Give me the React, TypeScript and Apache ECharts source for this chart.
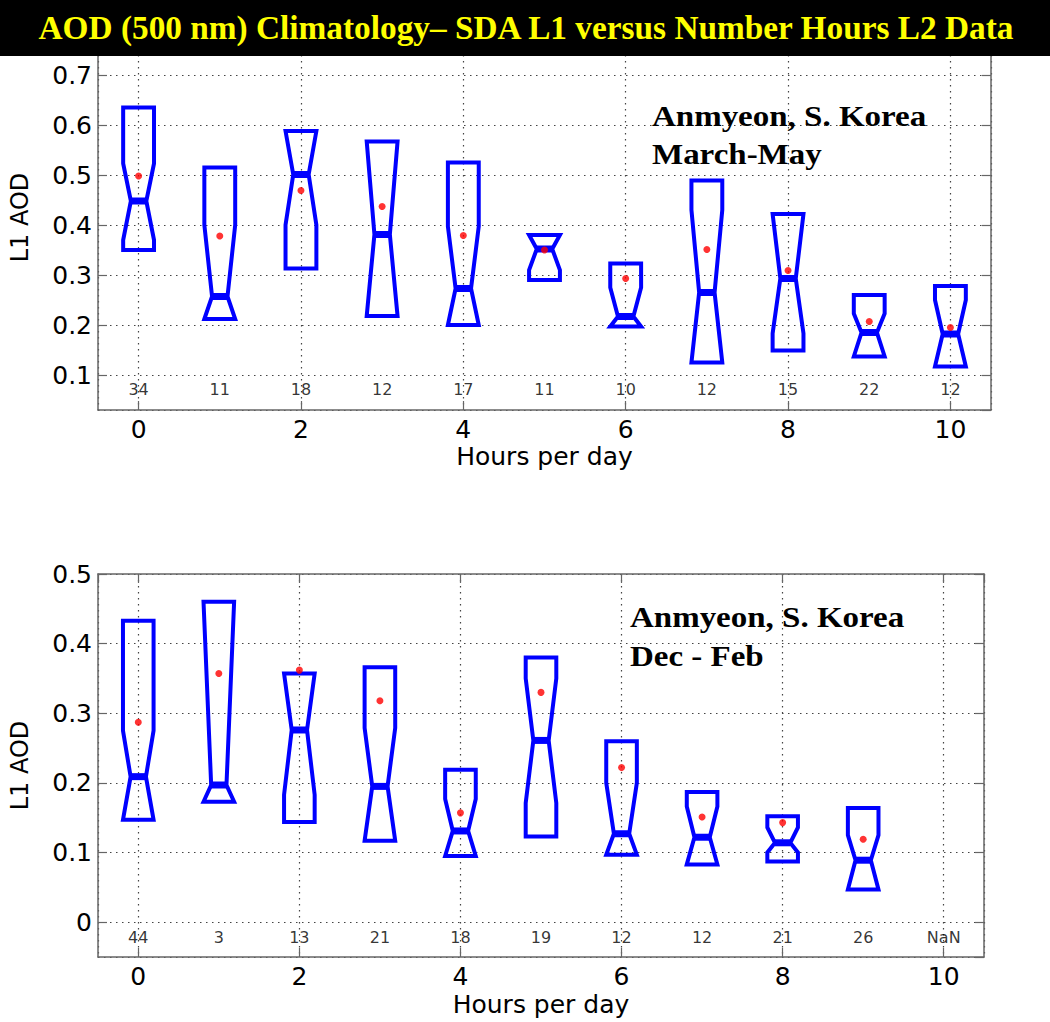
import React, { useEffect, useRef } from "react";
import * as echarts from "echarts";

// ---------- data ----------
const hours = [0, 1, 2, 3, 4, 5, 6, 7, 8, 9, 10];

// Panel A: March-May
const mamQ1 = [0.35, 0.212, 0.313, 0.218, 0.2, 0.29, 0.197, 0.125, 0.149, 0.137, 0.117];
const mamQ3 = [0.635, 0.515, 0.588, 0.567, 0.525, 0.38, 0.323, 0.489, 0.422, 0.26, 0.278];
const mamMedian = [0.448, 0.257, 0.501, 0.381, 0.273, 0.352, 0.217, 0.265, 0.293, 0.185, 0.182];
const mamNotchLo = [0.37, 0.212, 0.4, 0.218, 0.2, 0.31, 0.197, 0.125, 0.183, 0.137, 0.117];
const mamNotchHi = [0.523, 0.4, 0.588, 0.567, 0.397, 0.38, 0.275, 0.43, 0.422, 0.223, 0.25];
const mamMean = [0.498, 0.378, 0.469, 0.437, 0.379, 0.35, 0.293, 0.351, 0.309, 0.207, 0.195];
const mamCounts = ["34", "11", "18", "12", "17", "11", "10", "12", "15", "22", "12"];

// Panel B: Dec - Feb
const djfQ1 = [0.147, 0.173, 0.144, 0.117, 0.095, 0.123, 0.097, 0.083, 0.087, 0.047, null];
const djfQ3 = [0.433, 0.46, 0.357, 0.366, 0.219, 0.38, 0.26, 0.187, 0.152, 0.164, null];
const djfMedian = [0.209, 0.197, 0.276, 0.195, 0.131, 0.261, 0.127, 0.122, 0.114, 0.089, null];
const djfNotchLo = [0.147, 0.173, 0.183, 0.117, 0.095, 0.171, 0.097, 0.083, 0.1, 0.047, null];
const djfNotchHi = [0.275, 0.46, 0.357, 0.279, 0.177, 0.35, 0.2, 0.166, 0.136, 0.125, null];
const djfMean = [0.287, 0.357, 0.362, 0.318, 0.157, 0.33, 0.222, 0.151, 0.143, 0.119, null];
const djfCounts = ["44", "3", "13", "21", "18", "19", "12", "12", "21", "26", "NaN"];

const titleText = "AOD (500 nm) Climatology\u2013 SDA L1 versus Number Hours L2 Data";
const siteText = "Anmyeon, S. Korea";
const seasonA = "March-May";
const seasonB = "Dec - Feb";
const xName = "Hours per day";
const yName = "L1 AOD";

// ---------- styling ----------
const BLUE = "#0000ff";
const RED = "#ff0000";
const HW = 0.19;
const IW = 0.095;
const FONT = "DejaVu Sans";
const SERIF = "Liberation Serif";

function boxData(q1: any[], q3: any[], md: any[], lo: any[], hi: any[]) {
  const out: number[][] = [];
  hours.forEach((h, i) => {
    if (q1[i] != null) out.push([h, q1[i], q3[i], md[i], lo[i], hi[i]]);
  });
  return out;
}
function pointData(vals: any[]) {
  const out: number[][] = [];
  hours.forEach((h, i) => {
    if (vals[i] != null) out.push([h, vals[i]]);
  });
  return out;
}

const renderBox = (params: any, api: any) => {
  const x = api.value(0);
  const q1 = api.value(1);
  const q3 = api.value(2);
  const md = api.value(3);
  const lo = api.value(4);
  const hi = api.value(5);
  const p = (dx: number, v: number) => api.coord([x + dx, v]);
  const pts = [
    p(-HW, q1), p(-HW, lo), p(-IW, md), p(-HW, hi), p(-HW, q3),
    p(HW, q3), p(HW, hi), p(IW, md), p(HW, lo), p(HW, q1),
  ];
  const a = p(-IW, md);
  const b = p(IW, md);
  return {
    type: "group",
    children: [
      { type: "polygon", shape: { points: pts }, style: { fill: "none", stroke: BLUE, lineWidth: 4, lineJoin: "miter" } },
      { type: "line", shape: { x1: a[0], y1: a[1], x2: b[0], y2: b[1] }, style: { stroke: BLUE, lineWidth: 7 } },
    ],
  };
};

const axisLine = { show: true, onZero: false, lineStyle: { color: "#666", width: 1.5 } };
const axisTick = { show: true, inside: true, length: 9, lineStyle: { color: "#666", width: 1.2 } };
const gridLine = { show: true, lineStyle: { color: "#444", type: [1.5, 4.5], width: 1.2 } };

function xAxes(gi: number, nameGap: number) {
  return [
    {
      gridIndex: gi, type: "value", position: "bottom", min: -0.5, max: 10.5, minInterval: 2, maxInterval: 2,
      axisLine, axisTick, splitLine: gridLine,
      axisLabel: { show: true, fontFamily: FONT, fontSize: 25, color: "#000", margin: 7, showMinLabel: false, showMaxLabel: false },
      name: xName, nameLocation: "middle", nameGap,
      nameTextStyle: { fontFamily: FONT, fontSize: 25, color: "#000" },
    },
    {
      gridIndex: gi, type: "value", position: "top", min: -0.5, max: 10.5, minInterval: 2, maxInterval: 2,
      axisLine, axisTick, splitLine: { show: false }, axisLabel: { show: false },
    },
  ];
}
function yAxes(gi: number, min: number, max: number, showMax: boolean) {
  return [
    {
      gridIndex: gi, type: "value", position: "left", min, max, minInterval: 0.1, maxInterval: 0.1,
      axisLine, axisTick, splitLine: gridLine,
      axisLabel: { show: true, fontFamily: FONT, fontSize: 25, color: "#000", margin: 6, showMinLabel: false, showMaxLabel: showMax },
      name: yName, nameLocation: "middle", nameGap: 66, nameRotate: 90,
      nameTextStyle: { fontFamily: FONT, fontSize: 24, color: "#000" },
    },
    {
      gridIndex: gi, type: "value", position: "right", min, max, minInterval: 0.1, maxInterval: 0.1,
      axisLine, axisTick, splitLine: { show: false }, axisLabel: { show: false },
    },
  ];
}

function panelSeries(axisIdx: number, q1: any[], q3: any[], md: any[], lo: any[], hi: any[], mean: any[], counts: string[], countY: number) {
  return [
    {
      type: "custom", xAxisIndex: axisIdx, yAxisIndex: axisIdx, renderItem: renderBox,
      data: boxData(q1, q3, md, lo, hi), encode: { x: 0, y: [1, 2, 3, 4, 5] }, z: 3, silent: true,
    },
    {
      type: "scatter", xAxisIndex: axisIdx, yAxisIndex: axisIdx, data: pointData(mean),
      symbol: "circle", symbolSize: 7, itemStyle: { color: RED }, z: 5, silent: true,
    },
    {
      type: "scatter", xAxisIndex: axisIdx, yAxisIndex: axisIdx,
      data: hours.map((h) => [h, countY]), symbolSize: 1, itemStyle: { color: "rgba(0,0,0,0)" }, silent: true,
      label: {
        show: true, position: "inside", fontFamily: FONT, fontSize: 16, color: "#000",
        formatter: (p: any) => counts[p.dataIndex],
      },
    },
  ];
}

export default function App() {
  const ref = useRef<HTMLDivElement>(null);
  useEffect(() => {
    if (!ref.current) return;
    const chart = echarts.init(ref.current, null, { renderer: "svg" });
    const option: any = {
      animation: false,
      backgroundColor: "#fff",
      grid: [
        { left: 95, top: 25, width: 896, height: 385 },
        { left: 93, top: 574, width: 891, height: 383 },
      ],
      xAxis: [...xAxes(0, 34), ...xAxes(1, 35)],
      yAxis: [...yAxes(0, 0.03, 0.8, false), ...yAxes(1, -0.05, 0.5, true)],
      series: [
        ...panelSeries(0, mamQ1, mamQ3, mamMedian, mamNotchLo, mamNotchHi, mamMean, mamCounts, 0.072),
        ...panelSeries(2, djfQ1, djfQ3, djfMedian, djfNotchLo, djfNotchHi, djfMean, djfCounts, -0.022),
      ],
      graphic: [
        { type: "rect", left: 0, top: 0, z: 100, shape: { width: 1050, height: 56 }, style: { fill: "#000" } },
        {
          type: "text", x: 526, y: 28, scaleX: 1.01, z: 101,
          style: { text: titleText, fill: "#ffff00", font: `bold 33px "${SERIF}"`, textAlign: "center", textVerticalAlign: "middle" },
        },
        { type: "text", x: 652, y: 116, scaleX: 1.1, z: 50, style: { text: siteText, fill: "#000", font: `bold 30px "${SERIF}"`, textAlign: "left", textVerticalAlign: "middle" } },
        { type: "text", x: 652, y: 154, scaleX: 1.1, z: 50, style: { text: seasonA, fill: "#000", font: `bold 30px "${SERIF}"`, textAlign: "left", textVerticalAlign: "middle" } },
        { type: "text", x: 630, y: 617, scaleX: 1.1, z: 50, style: { text: siteText, fill: "#000", font: `bold 30px "${SERIF}"`, textAlign: "left", textVerticalAlign: "middle" } },
        { type: "text", x: 630, y: 656, scaleX: 1.1, z: 50, style: { text: seasonB, fill: "#000", font: `bold 30px "${SERIF}"`, textAlign: "left", textVerticalAlign: "middle" } },
      ],
    };
    chart.setOption(option);
    return () => chart.dispose();
  }, []);
  return (
    <div
      ref={ref}
      style={{ position: "absolute", left: 0, top: 0, width: 1050, height: 1022, background: "#fff" }}
    />
  );
}
